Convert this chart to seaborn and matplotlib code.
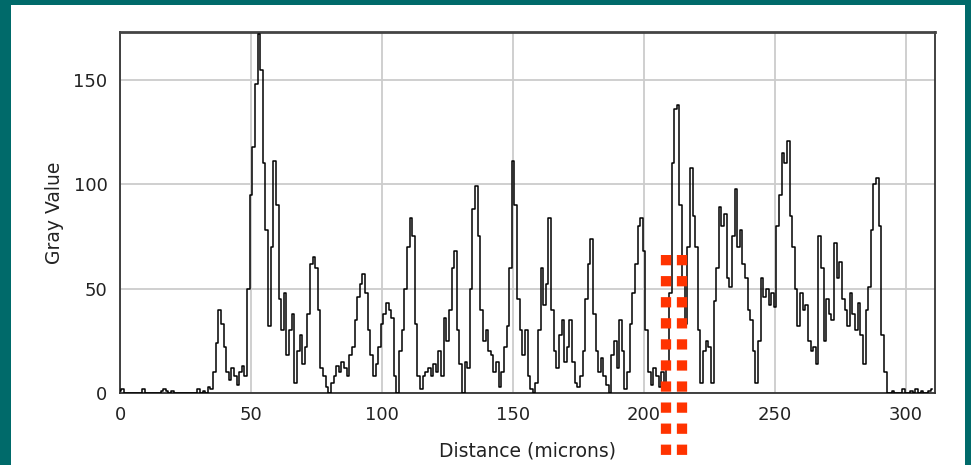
import numpy as np
import pandas as pd
import matplotlib
matplotlib.use("Agg")
import matplotlib.pyplot as plt
import seaborn as sns
from matplotlib.patches import Rectangle
from matplotlib.lines import Line2D
import matplotlib.transforms as mtransforms

# ---- data (1 micron spacing) ----
distance = list(range(0, 311))
gray_value = [
    1, 2, 0, 0, 0, 0, 0, 0, 0, 2, 0, 0, 0, 0, 0, 0, 1, 2, 1, 0,
    1, 0, 0, 0, 0, 0, 0, 0, 0, 0, 2, 0, 1, 0, 3, 2, 10, 24, 40, 33,
    22, 10, 6, 12, 8, 4, 10, 13, 8, 50, 95, 118, 148, 172, 155, 110, 78, 32, 70, 111,
    90, 45, 30, 48, 18, 30, 38, 5, 20, 28, 14, 22, 38, 62, 65, 60, 40, 12, 8, 3,
    0, 5, 8, 13, 10, 15, 12, 8, 18, 22, 35, 46, 52, 57, 48, 30, 18, 8, 14, 22,
    33, 38, 43, 40, 36, 8, 0, 20, 30, 50, 70, 84, 75, 33, 8, 2, 8, 10, 12, 8,
    14, 10, 20, 8, 36, 25, 40, 60, 68, 30, 14, 0, 15, 12, 50, 88, 99, 75, 40, 25,
    30, 20, 18, 10, 15, 3, 10, 22, 32, 60, 111, 90, 45, 30, 18, 30, 8, 2, 0, 5,
    30, 60, 42, 52, 84, 40, 20, 12, 28, 35, 15, 22, 35, 15, 5, 3, 8, 20, 45, 62,
    74, 38, 20, 10, 17, 8, 4, 0, 18, 25, 12, 35, 20, 2, 10, 33, 48, 62, 80, 84,
    68, 30, 10, 4, 12, 8, 3, 10, 5, 12, 48, 110, 136, 138, 90, 55, 33, 70, 108, 85,
    70, 30, 5, 20, 25, 22, 5, 44, 60, 89, 80, 86, 55, 51, 75, 98, 70, 78, 62, 55,
    40, 35, 20, 5, 25, 55, 46, 50, 42, 48, 41, 80, 95, 115, 110, 121, 85, 70, 50, 32,
    48, 40, 42, 25, 20, 22, 14, 75, 60, 25, 45, 38, 35, 72, 55, 63, 45, 40, 32, 48,
    38, 30, 43, 28, 14, 40, 51, 78, 100, 103, 80, 28, 10, 0, 0, 1, 0, 0, 0, 2,
    0, 0, 1, 0, 2, 0, 1, 0, 0, 1, 2,
]
x_ticks = [0, 50, 100, 150, 200, 250, 300]
y_ticks = [0, 50, 100, 150]
marker_positions = [208.5, 214.3]   # red dotted overlay lines (microns)

df = pd.DataFrame({"Distance (microns)": distance, "Gray Value": gray_value})

W, H = 971, 465
fig = plt.figure(figsize=(W / 100, H / 100), dpi=100)
fig.patch.set_facecolor("#006a6a")
fig.patches.append(Rectangle((11 / W, 0), (965 - 11) / W, (H - 5) / H,
                             transform=fig.transFigure, facecolor="white",
                             edgecolor="none", zorder=-5))

ax = fig.add_axes([120 / W, (H - 393) / H, (935 - 120) / W, (393 - 32) / H])
ax.set_zorder(2)
ax.set_facecolor("white")

sns.lineplot(data=df, x="Distance (microns)", y="Gray Value", ax=ax,
             color="black", linewidth=1.1, drawstyle="steps-mid",
             estimator=None, sort=False, zorder=3)

ax.set_xlim(0, 311)
ax.set_ylim(0, 173)
ax.set_xticks(x_ticks)
ax.set_yticks(y_ticks)
ax.grid(True, color="#cccccc", linewidth=1.3, zorder=1)
ax.set_axisbelow(True)
for s in ax.spines.values():
    s.set_color("#333333")
    s.set_linewidth(1.3)
ax.spines["top"].set_linewidth(2.0)
ax.spines["top"].set_color("#444444")

ax.tick_params(length=0, labelsize=13, labelcolor="#222222")
ax.tick_params(axis="x", pad=9)
ax.tick_params(axis="y", pad=9)
ax.set_xlabel("Distance (microns)", fontsize=13.5, color="#222222", labelpad=13)
ax.set_ylabel("Gray Value", fontsize=13.5, color="#222222", labelpad=7)

# red dotted overlay lines, x in data units, y in figure units
trans = mtransforms.blended_transform_factory(ax.transData, fig.transFigure)
for xm in marker_positions:
    ln = Line2D([xm, xm], [(H - 255) / H, -0.02], transform=trans,
                color="#ff3300", linewidth=7.4, linestyle=(0, (1.0, 1.05)),
                solid_capstyle="butt", dash_capstyle="butt", zorder=10,
                clip_on=False)
    fig.add_artist(ln)

fig.savefig("out.png", dpi=100, facecolor=fig.get_facecolor())
